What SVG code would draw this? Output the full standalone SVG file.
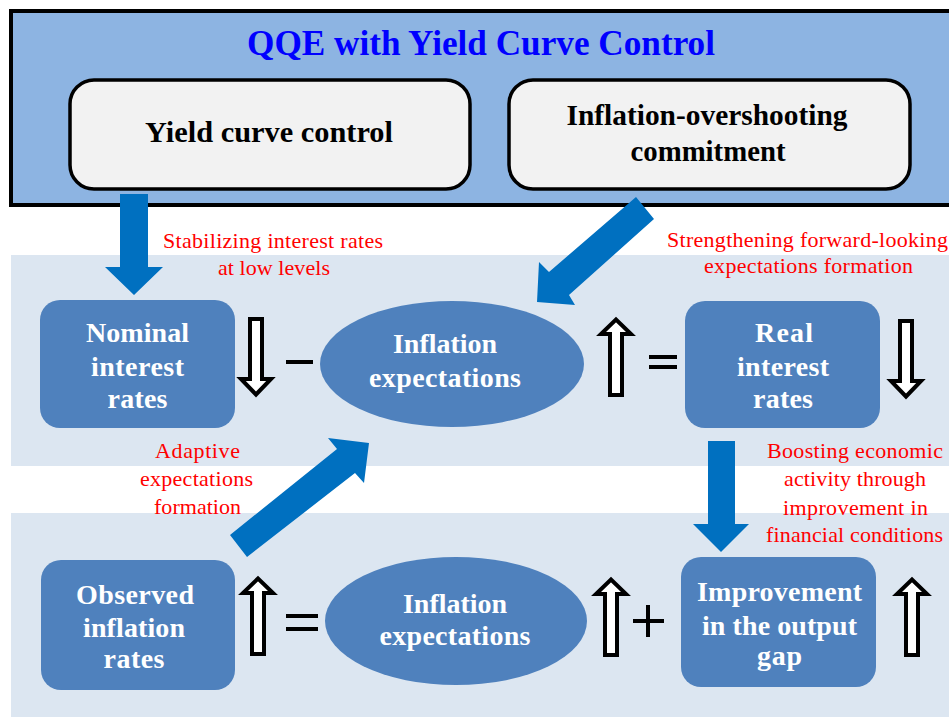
<svg xmlns="http://www.w3.org/2000/svg" xmlns:xlink="http://www.w3.org/1999/xlink" width="949" height="717" viewBox="0 0 949 717">
<style>
.t{font-family:"Liberation Serif","Times New Roman",serif;}
.title{font-size:35px;font-weight:bold;fill:#0000FF;}
.dark{font-size:29px;font-weight:bold;fill:#000;}
.wt{font-size:28px;font-weight:bold;fill:#fff;}
.red{font-size:22px;fill:#FF0000;}
.node{fill:#4F81BD;}
.pol{fill:#F2F2F2;stroke:#000;stroke-width:3.5;}
.band{fill:#DCE6F1;}
.blue{fill:#0070C0;}
.hol{fill:#fff;stroke:#000;stroke-width:4;stroke-linejoin:miter;}
.sym{fill:#000;}
</style>
<defs>
<path id="dn" d="M11,2 H23 V62 H32 L17,77.5 L2,62 H11 Z"/>
<path id="up" d="M11,78 H23 V17 H32 L17,2.5 L2,17 H11 Z"/>
</defs>
<rect width="949" height="717" fill="#fff"/>
<g id="bands">
<rect class="band" x="11" y="255" width="938" height="211"/>
<rect class="band" x="11" y="513" width="938" height="204"/>
</g>
<g id="qqe-frame">
<rect x="11" y="11" width="960" height="194" fill="#8DB4E2" stroke="#000" stroke-width="4"/>
<text class="t title" x="481" y="55" text-anchor="middle" textLength="468" lengthAdjust="spacingAndGlyphs">QQE with Yield Curve Control</text>
</g>
<g id="yield-curve-control">
<rect class="pol" x="70" y="80" width="400" height="109" rx="24"/>
<text class="t dark" x="269" y="142" text-anchor="middle" textLength="248" lengthAdjust="spacingAndGlyphs">Yield curve control</text>
</g>
<g id="inflation-overshooting">
<rect class="pol" x="509" y="80" width="401" height="109" rx="24"/>
<text class="t dark" x="707" y="125" text-anchor="middle" textLength="281" lengthAdjust="spacingAndGlyphs">Inflation-overshooting</text>
<text class="t dark" x="708" y="161" text-anchor="middle" textLength="155" lengthAdjust="spacingAndGlyphs">commitment</text>
</g>
<g id="nominal-interest-rates">
<rect class="node" x="40" y="300" width="195" height="128" rx="20"/>
<text class="t wt" x="137.5" y="342" text-anchor="middle" textLength="103">Nominal</text>
<text class="t wt" x="137.5" y="376" text-anchor="middle" textLength="93">interest</text>
<text class="t wt" x="137.5" y="408" text-anchor="middle" textLength="60">rates</text>
</g>
<g id="inflation-expectations-1">
<ellipse class="node" cx="452" cy="364" rx="132" ry="63"/>
<text class="t wt" x="445" y="353" text-anchor="middle" textLength="104">Inflation</text>
<text class="t wt" x="445" y="387" text-anchor="middle" textLength="152">expectations</text>
</g>
<g id="real-interest-rates">
<rect class="node" x="685" y="301" width="195" height="127" rx="20"/>
<text class="t wt" x="784" y="342" text-anchor="middle" textLength="58">Real</text>
<text class="t wt" x="783" y="376" text-anchor="middle" textLength="92">interest</text>
<text class="t wt" x="783" y="408" text-anchor="middle" textLength="60">rates</text>
</g>
<g id="observed-inflation-rates">
<rect class="node" x="41" y="560" width="194" height="130" rx="20"/>
<text class="t wt" x="135" y="604" text-anchor="middle" textLength="118">Observed</text>
<text class="t wt" x="134" y="637" text-anchor="middle" textLength="102">inflation</text>
<text class="t wt" x="134" y="668" text-anchor="middle" textLength="61">rates</text>
</g>
<g id="inflation-expectations-2">
<ellipse class="node" cx="456" cy="621" rx="131" ry="64"/>
<text class="t wt" x="455" y="613" text-anchor="middle" textLength="104">Inflation</text>
<text class="t wt" x="455" y="645" text-anchor="middle" textLength="151">expectations</text>
</g>
<g id="output-gap">
<rect class="node" x="681" y="557" width="195" height="130" rx="20"/>
<text class="t wt" x="779.5" y="601" text-anchor="middle" textLength="165">Improvement</text>
<text class="t wt" x="779.5" y="635" text-anchor="middle" textLength="155">in the output</text>
<text class="t wt" x="779.5" y="665" text-anchor="middle" textLength="45">gap</text>
</g>
<g id="signs">
<use href="#dn" class="hol" x="239" y="317"/>
<rect class="sym" x="286" y="360" width="27" height="4"/>
<use href="#up" class="hol" x="599" y="317"/>
<rect class="sym" x="649" y="355" width="28" height="4"/>
<rect class="sym" x="649" y="365" width="28" height="4"/>
<use href="#dn" class="hol" x="889" y="319"/>
<use href="#up" class="hol" x="241" y="576"/>
<rect class="sym" x="286" y="614" width="32" height="4"/>
<rect class="sym" x="286" y="627" width="32" height="4"/>
<use href="#up" class="hol" x="594" y="577"/>
<rect class="sym" x="633" y="619" width="31" height="4"/>
<rect class="sym" x="646" y="605" width="4" height="32"/>
<use href="#up" class="hol" x="895" y="577"/>
</g>
<g id="connectors">
<polygon class="blue" points="120,194 148,194 148,267 163,267 134,295 105,267 120,267"/>
<polygon class="blue" points="636,197 654,219 569,295 575,305 537,302 539,262 549,272"/>
<polygon class="blue" points="230,535 247,557 355,473 364,483 369,443 328,438 337,449"/>
<polygon class="blue" points="708,441 735,441 735,524 749,524 721,552 693,524 708,524"/>
</g>
<g id="labels">
<text class="t red" x="273" y="248" text-anchor="middle" textLength="220">Stabilizing  interest rates</text>
<text class="t red" x="274" y="275" text-anchor="middle" textLength="112">at low levels</text>
<text class="t red" x="667" y="247" textLength="281">Strengthening  forward-looking</text>
<text class="t red" x="808.5" y="273" text-anchor="middle" textLength="209">expectations formation</text>
<text class="t red" x="197.5" y="458" text-anchor="middle" textLength="85">Adaptive</text>
<text class="t red" x="196.5" y="486" text-anchor="middle" textLength="113">expectations</text>
<text class="t red" x="197.5" y="514" text-anchor="middle" textLength="87">formation</text>
<text class="t red" x="855" y="458" text-anchor="middle" textLength="176">Boosting economic</text>
<text class="t red" x="855" y="486" text-anchor="middle" textLength="142">activity through</text>
<text class="t red" x="855.5" y="515" text-anchor="middle" textLength="145">improvement  in</text>
<text class="t red" x="854.5" y="542" text-anchor="middle" textLength="177">financial  conditions</text>
</g>
</svg>
